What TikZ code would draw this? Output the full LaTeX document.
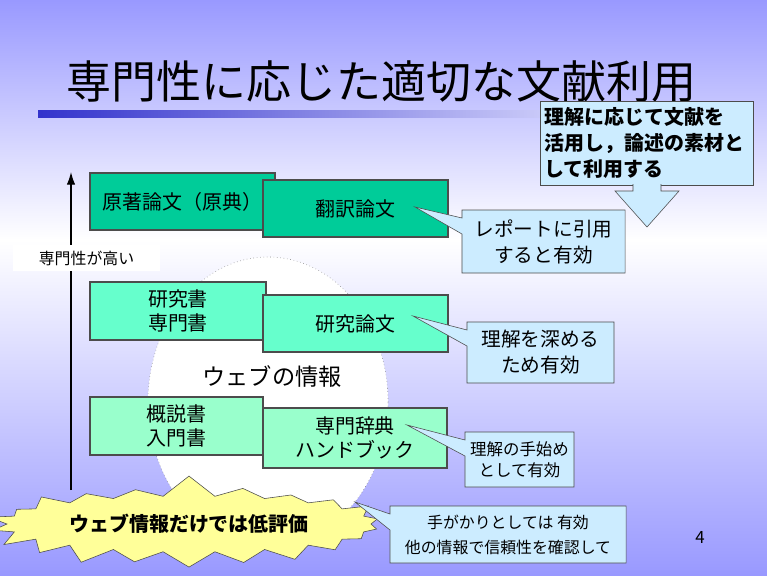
\documentclass[tikz,border=0pt]{standalone}
\usepackage{fontspec}
\setmainfont{Noto Sans CJK JP}
\usetikzlibrary{shapes.geometric,shapes.symbols,shapes.callouts,arrows.meta}
\definecolor{bgblue}{RGB}{153,153,255}
\definecolor{barblue}{RGB}{51,51,204}
\definecolor{deepgreen}{RGB}{0,204,153}
\definecolor{mintgreen}{RGB}{102,255,204}
\definecolor{palegreen}{RGB}{153,255,204}
\definecolor{noteblue}{RGB}{204,236,255}
\definecolor{staryellow}{RGB}{255,255,153}
\tikzstyle{book}=[draw=black!70, line width=0.8pt, align=center, inner sep=0pt, font=\fontsize{14.2}{17}\selectfont]
\tikzstyle{note}=[rectangle callout, draw=black!70, fill=noteblue, align=center, inner sep=0pt, callout pointer width=0.4cm, font=\fontsize{14}{18.5}\selectfont]

\begin{document}
\begin{tikzpicture}[x=0.025cm,y=-0.025cm]
        \useasboundingbox (0,0) rectangle (767,575);
        \shade[top color=bgblue, bottom color=white] (0,0) rectangle (767,240);
        \shade[top color=white, bottom color=bgblue] (0,240) rectangle (767,575);
        \shade[left color=barblue, right color=bgblue!30] (38,110) rectangle (620,117);
        \node[anchor=base west, font=\fontsize{32}{32}\selectfont] (title) at (62,98) {専門性に応じた適切な文献利用};

        \node[ellipse, draw=gray, dotted, fill=white, minimum width=6cm, minimum height=7.25cm, inner sep=0pt] (web) at (268,402) {};
        \node[font=\fontsize{16.5}{16.5}\selectfont] (webinfo) at (272,376) {ウェブの情報};

        \coordinate (axisbot) at (71,490);
        \coordinate (axistop) at (71,172);
        \draw[-{Latex[length=9pt,width=6pt]}, line width=0.8pt] (axisbot) -- (axistop);
        \node[fill=white, minimum width=3.675cm, minimum height=0.65cm, inner sep=0pt, font=\fontsize{11.3}{11.3}\selectfont] (high) at (86.5,258) {専門性が高い};

        \node[book, fill=deepgreen, minimum width=4.625cm, minimum height=1.425cm] (original) at (182.5,201.5) {原著論文（原典）};
        \node[book, fill=deepgreen, minimum width=4.625cm, minimum height=1.425cm] (translated) at (355.5,208.5) {翻訳論文};
        \node[book, fill=mintgreen, minimum width=4.4cm, minimum height=1.45cm] (monograph) at (178,311) {研究書\\専門書};
        \node[book, fill=mintgreen, minimum width=4.625cm, minimum height=1.425cm] (paper) at (355.5,323.5) {研究論文};
        \node[book, fill=palegreen, minimum width=4.325cm, minimum height=1.45cm] (intro) at (176.5,426) {概説書\\入門書};
        \node[book, fill=palegreen, minimum width=4.6cm, minimum height=1.5cm] (handbook) at (355,438) {専門辞典\\ハンドブック};

        \coordinate (tipcite) at (415,207);
        \coordinate (tipdeep) at (413,316);
        \coordinate (tipstart) at (407,425);
        \coordinate (tipclue) at (355,502);
        \node[note, callout absolute pointer={(tipcite)}, minimum width=4.075cm, minimum height=1.575cm] (cite) at (543.5,241.5) {レポートに引用\\すると有効};
        \node[note, callout absolute pointer={(tipdeep)}, minimum width=3.675cm, minimum height=1.525cm] (deep) at (540.5,352.5) {理解を深める\\ため有効};
        \node[note, callout absolute pointer={(tipstart)}, minimum width=2.725cm, minimum height=1.375cm, font=\fontsize{11.7}{15}\selectfont] (start) at (519.5,459.5) {理解の手始め\\として有効};

        \node[draw=black!70, fill=noteblue, minimum width=5.325cm, minimum height=2.1cm, text width=5.1cm, inner xsep=0.11cm, inner ysep=0pt, align=left, font=\bfseries\fontsize{14.2}{18.5}\selectfont] (usage) at (646.5,143) {理解に応じて文献を\\活用し，論述の素材と\\して利用する};
        \filldraw[draw=black!70, fill=noteblue] (633,184) -- (633,191) -- (615,191) -- (647,227) -- (679,191) -- (661,191) -- (661,184);

        \node[starburst, starburst points=22, starburst point height=0.55cm, random starburst=7, draw=black!70, fill=staryellow, minimum width=10.2cm, minimum height=2.5cm, inner sep=0pt, font=\bfseries\fontsize{14.2}{14.2}\selectfont] (lowrate) at (189,524) {ウェブ情報だけでは低評価};
        \node[note, callout absolute pointer={(tipclue)}, minimum width=5.9cm, minimum height=1.425cm, font=\fontsize{11.3}{17.8}\selectfont] (clue) at (508,534.5) {手がかりとしては 有効\\他の情報で信頼性を確認して};

        \node[font=\fontsize{12}{12}\selectfont] (pageno) at (700,537) {4};
    \end{tikzpicture}
\end{document}
